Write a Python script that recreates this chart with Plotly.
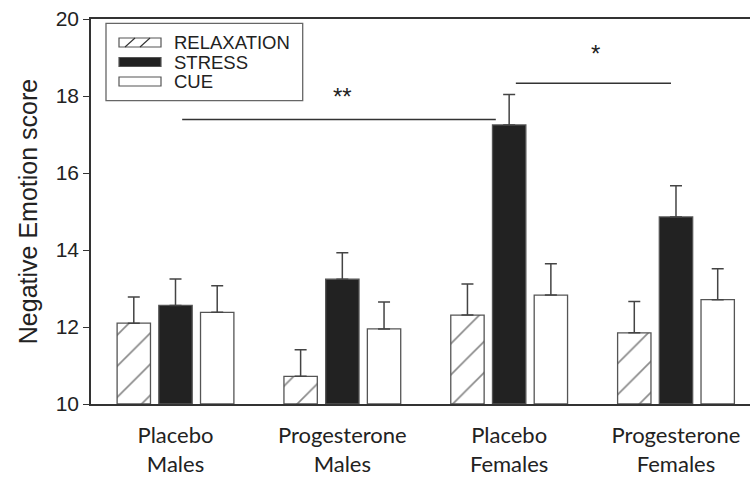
import plotly.graph_objects as go

# Groups along the x axis
groups = ["Placebo<br>Males", "Progesterone<br>Males",
          "Placebo<br>Females", "Progesterone<br>Females"]

# Mean negative emotion score per condition, with upper SEM
relaxation = [12.10, 10.72, 12.31, 11.85]
relaxation_err = [0.68, 0.69, 0.81, 0.81]
stress = [12.56, 13.24, 17.25, 14.86]
stress_err = [0.69, 0.69, 0.79, 0.81]
cue = [12.38, 11.95, 12.83, 12.71]
cue_err = [0.69, 0.70, 0.81, 0.80]

y_ticks = [10, 12, 14, 16, 18, 20]

# Significance brackets: (x start, x end, y level, label, label x, label y)
brackets = [
    (0.04, 1.92, 17.39, "**", 1.0, 18.0),
    (2.04, 2.97, 18.33, "*", 2.52, 19.1),
]

INK = "#222222"
EDGE = "#555555"
AXIS_FONT = "Liberation Sans, Arial, sans-serif"
LABEL_FONT = "Lato, Calibri, sans-serif"

W, H = 750, 478
ML, MR, MT, MB = 91, 0, 19, 74
PW, PH = W - ML - MR, H - MT - MB


def px_x(px):
    return (px - ML) / PW


def px_y(py):
    return (H - MB - py) / PH


def err_bars(vals):
    return dict(type="data", symmetric=False, array=vals,
                arrayminus=[0] * len(vals), color="#444444",
                thickness=1.5, width=6)


fig = go.Figure()
fig.add_trace(go.Bar(
    name="RELAXATION", x=groups, y=[v - 10 for v in relaxation], base=10,
    marker=dict(color="white", line=dict(color=EDGE, width=1.3),
                pattern=dict(shape="/", fgcolor="#111111", bgcolor="white",
                             size=22, solidity=0.075)),
    error_y=err_bars(relaxation_err),
))
fig.add_trace(go.Bar(
    name="STRESS", x=groups, y=[v - 10 for v in stress], base=10,
    marker=dict(color="#222222", line=dict(color=EDGE, width=1.3)),
    error_y=err_bars(stress_err),
))
fig.add_trace(go.Bar(
    name="CUE", x=groups, y=[v - 10 for v in cue], base=10,
    marker=dict(color="white", line=dict(color=EDGE, width=1.3)),
    error_y=err_bars(cue_err),
))

shapes = []
annotations = []

# Significance lines and stars
for x0, x1, yl, txt, tx, ty in brackets:
    shapes.append(dict(type="line", xref="x", yref="y", x0=x0, x1=x1,
                       y0=yl, y1=yl, line=dict(color="#333333", width=1.5)))
    annotations.append(dict(x=tx, y=ty, xref="x", yref="y", text=txt,
                            showarrow=False, xanchor="center", yanchor="middle",
                            font=dict(family=AXIS_FONT, size=24, color=INK)))

# Legend box with swatches
shapes.append(dict(type="rect", xref="paper", yref="paper",
                   x0=px_x(106), x1=px_x(302.7), y0=px_y(100.7), y1=px_y(23.3),
                   line=dict(color="#666666", width=1.3), fillcolor="white"))
legend_rows = [("RELAXATION", "white", 42.5), ("STRESS", "#222222", 62),
               ("CUE", "white", 81.5)]
for name, fill, cy in legend_rows:
    shapes.append(dict(type="rect", xref="paper", yref="paper",
                       x0=px_x(119), x1=px_x(161), y0=px_y(cy + 4.5),
                       y1=px_y(cy - 4.5), fillcolor=fill,
                       line=dict(color=EDGE, width=1.2)))
    annotations.append(dict(x=px_x(172), y=px_y(cy), xref="paper", yref="paper",
                            text=name, showarrow=False, xanchor="left",
                            yanchor="middle",
                            font=dict(family=AXIS_FONT, size=18.5, color=INK)))
# hatch strokes in the RELAXATION swatch
for sx in (125, 140):
    shapes.append(dict(type="line", xref="paper", yref="paper",
                       x0=px_x(sx), x1=px_x(sx + 10), y0=px_y(47), y1=px_y(38),
                       line=dict(color="#333333", width=1.1)))

fig.update_layout(
    width=W, height=H,
    margin=dict(l=ML, r=MR, t=MT, b=MB, pad=0),
    paper_bgcolor="white", plot_bgcolor="white",
    barmode="group", bargap=0.25, bargroupgap=0.2,
    showlegend=False,
    shapes=shapes, annotations=annotations,
    xaxis=dict(
        type="category", range=[-0.5065, 3.4436],
        showline=True, linecolor="#333333", linewidth=1.5, mirror=True,
        ticks="", showgrid=False, zeroline=False,
        ticklabelstandoff=11,
        tickfont=dict(family=LABEL_FONT, size=22, color=INK),
    ),
    yaxis=dict(
        range=[10, 20], tickvals=y_ticks,
        showline=True, linecolor="#333333", linewidth=1.5, mirror=False,
        ticks="outside", ticklen=6, tickwidth=1.3, tickcolor="#333333",
        showgrid=False, zeroline=False,
        tickfont=dict(family=AXIS_FONT, size=21, color=INK),
        title=dict(text="Negative Emotion score", standoff=11,
                   font=dict(family=AXIS_FONT, size=25, color=INK)),
    ),
)

fig.write_html("out.html")
